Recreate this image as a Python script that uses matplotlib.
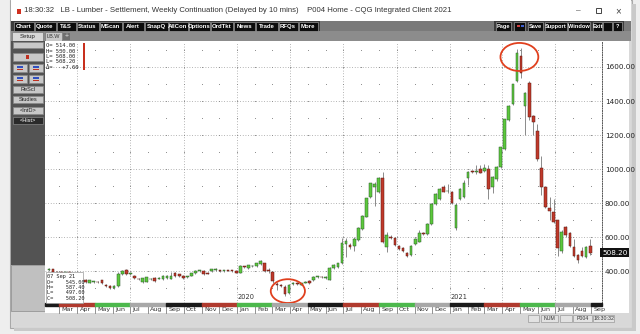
import matplotlib
matplotlib.use("Agg")
import matplotlib.pyplot as plt
import matplotlib.transforms as mtransforms
from matplotlib.patches import Rectangle, Ellipse
import numpy as np
import pandas as pd

# weekly lumber continuation, first bar = week of 11 Feb 2019
start = pd.Timestamp("2019-02-11")

opens = [405, 410, 396, 392, 388, 396, 380, 372, 360, 348,
         332, 338, 338, 347, 318, 314, 300, 310, 382, 404,
         383, 370, 356, 335, 338, 352, 357, 355, 353, 360,
         355, 386, 380, 370, 364, 372, 386, 400, 402, 388,
         398, 408, 404, 402, 404, 404, 402, 390, 426, 415,
         428, 430, 442, 445, 405, 392, 322, 318, 304, 270,
         326, 330, 320, 330, 342, 347, 364, 366, 357, 350,
         416, 422, 445, 560, 553, 545, 582, 647, 720, 837,
         895, 867, 947, 543, 600, 594, 547, 535, 508, 494,
         559, 572, 625, 618, 676, 794, 823, 896, 868, 867,
         651, 823, 837, 947, 986, 985, 1000, 986, 1000, 896,
         939, 1010, 1116, 1288, 1382, 1519, 1665, 1370, 1508, 1312,
         1225, 1004, 896, 771, 749, 700, 519, 657, 622, 543,
         494, 516, 480, 545]
highs = [420, 414, 402, 398, 400, 398, 386, 376, 364, 352,
         350, 344, 342, 350, 322, 318, 316, 392, 406, 410,
         392, 374, 360, 360, 366, 358, 362, 362, 374, 378,
         392, 392, 384, 374, 370, 390, 404, 406, 406, 392,
         414, 416, 408, 408, 408, 406, 408, 436, 430, 438,
         434, 450, 462, 450, 418, 396, 334, 322, 318, 322,
         338, 334, 330, 342, 346, 370, 372, 370, 370, 425,
         440, 450, 592, 596, 566, 600, 660, 728, 832, 920,
         925, 952, 984, 631, 610, 600, 552, 540, 512, 552,
         592, 640, 630, 682, 798, 856, 886, 905, 912, 872,
         800, 886, 935, 990, 995, 1025, 1025, 1030, 1025, 958,
         1020, 1130, 1295, 1375, 1502, 1704, 1714, 1455, 1515, 1320,
         1265, 1076, 900, 837, 823, 702, 640, 665, 628, 590,
         500, 540, 548, 587.4]
lows = [400, 392, 386, 380, 384, 374, 366, 356, 344, 328,
        328, 332, 328, 322, 308, 294, 292, 305, 378, 376,
        378, 352, 346, 330, 334, 346, 338, 352, 350, 356,
        352, 366, 366, 352, 358, 368, 382, 396, 376, 380,
        394, 402, 396, 396, 398, 396, 386, 386, 418, 410,
        424, 426, 438, 394, 390, 332, 288, 306, 252, 266,
        320, 318, 316, 328, 326, 344, 360, 358, 354, 346,
        412, 418, 440, 480, 530, 520, 578, 640, 716, 830,
        780, 860, 565, 513, 588, 550, 522, 512, 484, 490,
        555, 568, 612, 614, 672, 790, 818, 862, 859, 795,
        640, 818, 830, 906, 974, 970, 975, 980, 823, 860,
        930, 1005, 1110, 1280, 1375, 1510, 1533, 1200, 1290, 1200,
        1050, 847, 770, 698, 682, 488, 505, 600, 540, 480,
        447, 480, 475, 497]
closes = [412, 396, 392, 388, 396, 380, 372, 360, 350, 333,
          345, 340, 333, 327, 312, 298, 312, 385, 400, 380,
          388, 357, 351, 357, 362, 355, 343, 358, 370, 368,
          372, 370, 370, 357, 367, 386, 400, 403, 380, 385,
          410, 411, 402, 403, 402, 399, 390, 430, 423, 435,
          430, 445, 458, 398, 400, 342, 316, 312, 262, 318,
          330, 322, 327, 338, 330, 366, 368, 363, 366, 420,
          435, 447, 563, 575, 541, 590, 653, 723, 829, 918,
          912, 947, 572, 612, 594, 555, 527, 518, 488, 547,
          588, 625, 618, 676, 794, 853, 882, 867, 872, 798,
          790, 882, 918, 982, 980, 990, 978, 1006, 882, 953,
          1014, 1127, 1292, 1370, 1498, 1684, 1563, 1445, 1308, 1278,
          1057, 896, 775, 755, 690, 534, 631, 612, 547, 488,
          465, 488, 543, 508.2]

price_ticks = [400, 600, 800, 1000, 1200, 1400, 1600]
toolbar = ["Chart", "Quote", "T&S", "Status", "MScan", "Alert", "SnapQ",
           "AllCon", "Options", "OrdTkt", "News", "Trade", "RFQs", "More"]
toolbar_x = [13, 34, 56, 76, 99, 122, 144, 168, 188, 210, 233, 255, 278, 298, 318]
right_tools = [("Page", 496, 511), ("", 514, 525), ("Save", 528, 543),
               ("Support", 545, 567), ("Window", 568, 590), ("Exit", 593, 602),
               ("", 603, 612), ("?", 613, 622)]
side_buttons = ["ReScl", "Studies", "<IntD>", "<Hist>"]
last_info = ["O= 514.00", "H= 530.00", "L= 508.00", "L= 508.20", "\u0394=   +7.60"]
bar_info = ["07 Sep 21", "O=    545.00", "H=    587.40", "L=    497.00", "C=    508.20"]

o = np.array(opens)
h = np.array(highs)
l = np.array(lows)
c = np.array(closes)
n = len(c)
xs = np.arange(n)

W, H = 640, 334
fig = plt.figure(figsize=(6.4, 3.34), dpi=100, facecolor="#eeeeee")

# window chrome in pixel coordinates
bg = fig.add_axes([0, 0, 1, 1], zorder=0)
bg.set_xlim(0, W)
bg.set_ylim(H, 0)
bg.axis("off")

def box(x0, y0, x1, y1, fc, ec="none", lw=0.5, ax=bg, z=1):
    ax.add_patch(Rectangle((x0, y0), x1 - x0, y1 - y0, fc=fc, ec=ec, lw=lw, zorder=z))

def label(x, y, s, size=5, color="#111111", weight="normal", ha="center", ax=bg, family="Liberation Sans"):
    ax.text(x, y, s, fontsize=size, color=color, weight=weight, ha=ha, va="center",
            family=family, zorder=5)

box(10, 0, 632, 328, "#d9d9d9", "#a8a8a8", 0.8)
box(632, 4, 636, 330, "#c9c9c9")
box(14, 328, 636, 331, "#c9c9c9")
box(11, 0, 631, 21, "#ffffff")
box(17, 9, 21, 14, "#d03020")
label(24, 11, "18:30:32   LB - Lumber - Settlement, Weekly Continuation (Delayed by 10 mins)    P004 Home - CQG Integrated Client 2021",
      size=5.6, color="#333333", ha="left")
label(578, 11, "\u2013", size=6, color="#444444")
box(596, 8, 601, 13, "none", "#444444", 0.7)
label(618, 11, "\u00d7", size=7, color="#444444")

# toolbar
box(11, 21, 631, 31, "#7a7a7a")
box(11, 21, 320, 31, "#3c3c3c")
for i, name in enumerate(toolbar):
    box(toolbar_x[i] + 0.5, 22, toolbar_x[i + 1] - 0.5, 30.5, "#0c0c0c", "#9a9a9a", 0.5, z=2)
    label((toolbar_x[i] + toolbar_x[i + 1]) / 2, 26.3, name, size=4.3, color="white", weight="bold")
box(494, 21, 624, 31, "#3c3c3c")
for name, x0, x1 in right_tools:
    box(x0, 22, x1, 30.5, "#0c0c0c", "#9a9a9a", 0.5, z=2)
    label((x0 + x1) / 2, 26.3, name, size=4.1, color="white", weight="bold")
box(517, 25, 520, 27, "#d04040", z=3)
box(521, 25, 524, 27, "#4060d0", z=3)

# tab row
box(11, 31, 631, 41, "#8c8c8c")
box(12, 32, 43, 40.5, "#d8d8d8", "#777777", 0.5)
label(27.5, 36.3, "Setup", size=4.3, color="#222222")
box(45, 32, 62, 41, "#c9c9c9", "#777777", 0.5)
label(53.5, 36.3, "LB.W", size=4, color="#333333")
box(63, 33, 70, 40, "#6f6f6f")
label(66.5, 36.3, "+", size=5, color="#dddddd")

# left panel
box(11, 41, 45, 265, "#535353")
box(11, 265, 45, 311, "#c0c0c0", "#8a8a8a", 0.5)
box(13, 42, 43, 48, "#c8c8c8", "#888888", 0.5)
box(13, 53, 43, 61, "#c8c8c8", "#888888", 0.5)
box(26, 55, 29, 59, "#c03020", z=3)
for yy in (64, 75):
    box(13, yy, 27, yy + 8, "#c8c8c8", "#888888", 0.5)
    box(29, yy, 43, yy + 8, "#c8c8c8", "#888888", 0.5)
    box(17, yy + 2, 23, yy + 3.5, "#3050c0", z=3)
    box(17, yy + 4.5, 23, yy + 6, "#c03020", z=3)
    box(33, yy + 2, 39, yy + 3.5, "#3050c0", z=3)
    box(33, yy + 4.5, 39, yy + 6, "#c03020", z=3)
for k, (name, yy) in enumerate(zip(side_buttons, (86, 96, 107, 117))):
    dark = k == 3
    box(13, yy, 43, yy + 7, "#2a2a2a" if dark else "#c8c8c8", "#888888", 0.5)
    label(28, yy + 3.6, name, size=4.1, color="white" if dark else "#222222")

# chart area and status bar
box(45, 41, 629, 313, "#ffffff")
box(11, 313, 631, 326, "#d8d8d8")
for name, x0, x1 in [("", 528, 539), ("NUM", 541, 558), ("", 560, 572), ("P004", 573, 592), ("18:30:32", 593, 614)]:
    box(x0, 314.5, x1, 321.5, "#e2e2e2", "#9a9a9a", 0.5)
    label((x0 + x1) / 2, 318.2, name, size=3.8, color="#333333")

# main chart
ax = fig.add_axes([45 / W, 1 - 303 / H, (602 - 45) / W, (303 - 42) / H], zorder=2)
ax.set_facecolor("none")
ax.set_xlim(-0.98, 135.9)
ax.set_ylim(212, 1747)

months = pd.date_range("2019-03-01", "2021-09-01", freq="MS")
mpos = np.array([(d - start).days / 7 for d in months])
grid_c = "#9c9c9c"
for p in price_ticks:
    ax.axhline(p, color=grid_c, lw=0.6, ls=(0, (1, 2.2)), zorder=1)
for d, p in zip(months, mpos):
    if d.month in (1, 4, 7, 10):
        ax.axvline(p, color=grid_c, lw=0.6, ls=(0, (1, 2.2)), zorder=1)
gx, gy = np.meshgrid(mpos, np.arange(300, 1800, 100))
ax.scatter(gx.ravel(), gy.ravel(), s=0.5, color="#8c8c8c", linewidths=0, zorder=1)

up = c >= o
body_lo = np.minimum(o, c)
body_h = np.maximum(np.abs(c - o), 4)
ax.vlines(xs, l, h, color="#8a8a8a", lw=0.7, zorder=2)
ax.bar(xs[up], body_h[up], bottom=body_lo[up], width=0.66, color="#5cc83c",
       edgecolor="#2d5a2d", linewidth=0.35, zorder=3)
ax.bar(xs[~up], body_h[~up], bottom=body_lo[~up], width=0.66, color="#c0392b",
       edgecolor="#5a1a12", linewidth=0.35, zorder=3)

for s in ("top", "left", "bottom"):
    ax.spines[s].set_visible(False)
ax.spines["right"].set_color("#555555")
ax.spines["right"].set_linestyle((0, (1, 1.5)))
ax.spines["right"].set_linewidth(0.7)
ax.yaxis.tick_right()
ax.set_yticks(price_ticks)
ax.set_yticklabels(["%.2f" % p for p in price_ticks], fontsize=5.2, color="#222222")
ax.tick_params(axis="y", length=0, pad=2)
ax.set_xticks([])

trans = mtransforms.blended_transform_factory(ax.transData, ax.transAxes)
transy = mtransforms.blended_transform_factory(ax.transAxes, ax.transData)
ax.text(1.0, c[-1], "%.2f" % c[-1], transform=transy, fontsize=5.2, color="white",
        ha="left", va="center", bbox=dict(fc="#111111", ec="none", pad=1.2), zorder=6)

# time axis: two-month colour bands, month labels, year labels
band_cols = ["#1a1a1a", "#b03a2e", "#4cb84c", "#a8a8a8"]
edges = pd.date_range("2019-01-01", "2021-11-01", freq="2MS")
for k in range(len(edges) - 1):
    p0 = max((edges[k] - start).days / 7, -0.98)
    p1 = min((edges[k + 1] - start).days / 7, 135.9)
    if p1 <= p0:
        continue
    ax.add_patch(Rectangle((p0, -0.011), p1 - p0, 0.011, transform=trans,
                           color=band_cols[k % 4], clip_on=False, zorder=4))
for d, p in zip(months, mpos):
    ax.plot([p, p], [-0.011, -0.04], transform=trans, color="#666666", lw=0.5, clip_on=False)
    ax.text(p + 0.5, -0.026, d.strftime("%b"), transform=trans, fontsize=4.6,
            color="#333333", ha="left", va="center")
    if d.month == 1:
        ax.text(p, 0.022, str(d.year), transform=trans, fontsize=4.8, color="#333333",
                ha="left", va="center")

# red circles on the 2020 low and the 2021 peak
i_lo = int(np.argmin(l))
i_hi = int(np.argmax(h))
ax.add_patch(Ellipse((i_lo + 0.7, l[i_lo] + 30), 8.4, 140, fill=False, ec="#e0401e", lw=1.3, zorder=7))
ax.add_patch(Ellipse((i_hi - 0.4, h[i_hi] - 55), 9.3, 165, fill=False, ec="#e0401e", lw=1.3,
                     zorder=7, clip_on=False))

# info overlays
ov = fig.add_axes([0, 0, 1, 1], zorder=5)
ov.set_xlim(0, W)
ov.set_ylim(H, 0)
ov.axis("off")
ov.text(46.5, 56.5, "\n".join(last_info), fontsize=4.0, family="DejaVu Sans Mono",
        color="#222222", ha="left", va="center", linespacing=1.12)
box(82.5, 42.5, 84.5, 70, "#c8301e", ax=ov)
box(46, 272, 83, 303, "#ffffff", "#9a9a9a", 0.5, ax=ov)
ov.text(47, 287.5, "\n".join(bar_info), fontsize=3.8, family="DejaVu Sans Mono",
        color="#222222", ha="left", va="center", linespacing=1.12)

fig.savefig("out.png", dpi=100, facecolor=fig.get_facecolor())
